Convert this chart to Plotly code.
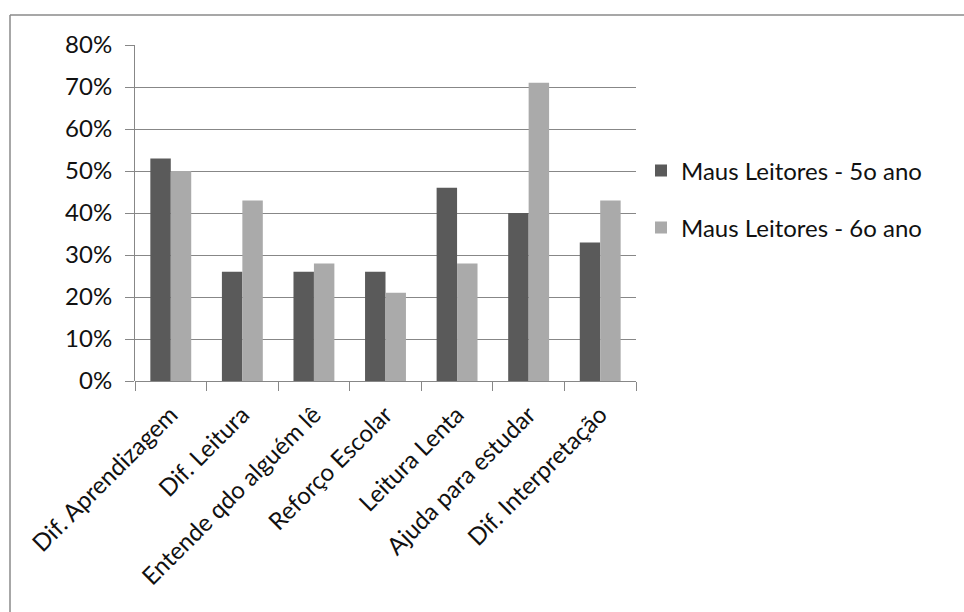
import plotly.graph_objects as go

categories = [
    "Dif. Aprendizagem",
    "Dif. Leitura",
    "Entende qdo alguém lê",
    "Reforço Escolar",
    "Leitura Lenta",
    "Ajuda para estudar",
    "Dif. Interpretação",
]
quinto_ano = [0.53, 0.26, 0.26, 0.26, 0.46, 0.40, 0.33]
sexto_ano = [0.50, 0.43, 0.28, 0.21, 0.28, 0.71, 0.43]
series_names = ["Maus Leitores - 5o ano", "Maus Leitores - 6o ano"]
y_ticks = [0, 0.1, 0.2, 0.3, 0.4, 0.5, 0.6, 0.7, 0.8]

W, H = 964, 612
# plot area in pixels
L, R, T, B = 135, 636, 45, 381

FONT = "Lato, Carlito, Calibri, sans-serif"
GRID = "#878787"
TEXT = "#111111"

fig = go.Figure()
fig.add_trace(go.Bar(x=categories, y=quinto_ano, name=series_names[0],
                     marker=dict(color="#5a5a5a", line=dict(width=0)),
                     legend="legend", showlegend=True))
fig.add_trace(go.Bar(x=categories, y=sexto_ano, name=series_names[1],
                     marker=dict(color="#aaaaaa", line=dict(width=0)),
                     legend="legend2", showlegend=True))


def px_x(p):
    return (p - L) / (R - L)


def px_y(p):
    return (B - p) / (B - T)


legend_style = dict(
    x=px_x(641), xanchor="left", yanchor="middle",
    font=dict(family=FONT, size=24, color=TEXT),
    bgcolor="rgba(0,0,0,0)", borderwidth=0,
    visible=True,
)

fig.update_layout(
    width=W, height=H,
    margin=dict(l=L, r=W - R, t=T, b=H - B),
    paper_bgcolor="white", plot_bgcolor="white",
    showlegend=True,
    barmode="group", bargap=1.5 / 3.5, bargroupgap=0,
    font=dict(family=FONT, size=24, color=TEXT),
    legend=dict(y=px_y(171), **legend_style),
    legend2=dict(y=px_y(228), **legend_style),
    xaxis=dict(
        type="category", tickangle=-45, tickson="boundaries",
        ticks="outside", ticklen=9, tickcolor=GRID,
        ticklabelstandoff=14,
        showline=False, showgrid=False, zeroline=False,
        tickfont=dict(family=FONT, size=24, color=TEXT),
    ),
    yaxis=dict(
        range=[0, 0.8], tickvals=y_ticks, tickformat=".0%",
        ticks="outside", ticklen=9, tickcolor=GRID,
        ticklabelstandoff=8,
        showgrid=True, gridcolor=GRID, gridwidth=1,
        showline=True, linecolor=GRID, linewidth=1,
        zeroline=True, zerolinecolor=GRID, zerolinewidth=1,
        tickfont=dict(family=FONT, size=24, color=TEXT),
    ),
    shapes=[
        # outer chart frame (top and left edges)
        dict(type="line", xref="paper", yref="paper",
             x0=px_x(10), x1=px_x(W + 5), y0=px_y(15), y1=px_y(15),
             line=dict(color="#8a8a8a", width=1.5)),
        dict(type="line", xref="paper", yref="paper",
             x0=px_x(10), x1=px_x(10), y0=px_y(15), y1=px_y(H + 5),
             line=dict(color="#8a8a8a", width=1.5)),
    ],
)

fig.write_html("out.html")
